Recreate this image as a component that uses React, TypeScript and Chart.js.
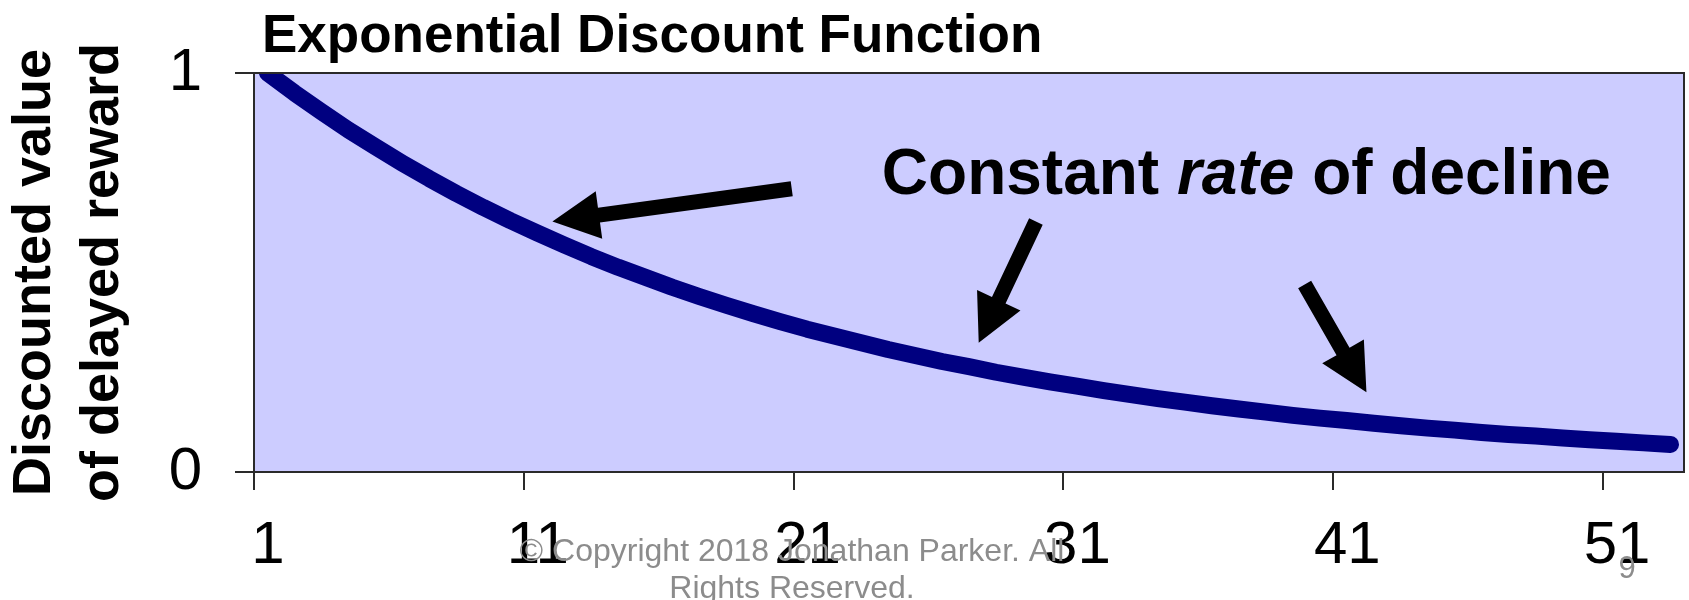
import React, { useEffect, useRef } from "react";
import { Chart, registerables } from "chart.js";

Chart.register(...registerables);

// ---------- data ----------
const chartTitle = "Exponential Discount Function";
const yAxisTitle = ["Discounted value", "of delayed reward"];

const periods = [
  1.5, 2.5, 3.5, 4.5, 5.5, 6.5, 7.5, 8.5, 9.5, 10.5,
  11.5, 12.5, 13.5, 14.5, 15.5, 16.5, 17.5, 18.5, 19.5, 20.5,
  21.5, 22.5, 23.5, 24.5, 25.5, 26.5, 27.5, 28.5, 29.5, 30.5,
  31.5, 32.5, 33.5, 34.5, 35.5, 36.5, 37.5, 38.5, 39.5, 40.5,
  41.5, 42.5, 43.5, 44.5, 45.5, 46.5, 47.5, 48.5, 49.5, 50.5,
  51.5, 52.5, 53.5,
];

const discountedValues = [
  1.0, 0.95, 0.903, 0.857, 0.815, 0.774, 0.735, 0.698, 0.663, 0.63,
  0.599, 0.569, 0.54, 0.513, 0.488, 0.463, 0.44, 0.418, 0.397, 0.377,
  0.358, 0.341, 0.324, 0.307, 0.292, 0.277, 0.264, 0.25, 0.238, 0.226,
  0.215, 0.204, 0.194, 0.184, 0.175, 0.166, 0.158, 0.15, 0.142, 0.135,
  0.129, 0.122, 0.116, 0.11, 0.105, 0.099, 0.094, 0.09, 0.085, 0.081,
  0.077, 0.073, 0.069,
];

const xTickValues = [1, 11, 21, 31, 41, 51];
const yTickValues = [0, 1];
const xRange = [1, 54];
const yRange = [0, 1];

const annotationParts = [
  { text: "Constant ", italic: false },
  { text: "rate", italic: true },
  { text: " of decline", italic: false },
];
const annotationAnchor = { x: 24.27, y: 0.696 };

const arrows = [
  { from: { x: 20.93, y: 0.71 }, to: { x: 12.06, y: 0.628 } },
  { from: { x: 29.98, y: 0.628 }, to: { x: 27.86, y: 0.324 } },
  { from: { x: 39.94, y: 0.47 }, to: { x: 42.23, y: 0.2 } },
];

const copyrightLines = ["© Copyright 2018 Jonathan Parker. All", "Rights Reserved."];
const slideNumber = "9";

// ---------- styles ----------
const FONT = '"Liberation Sans", Arial, Helvetica, sans-serif';
const PLOT_BG = "#CCCCFF";
const LINE_COLOR = "#000080";
const AXIS_COLOR = "#2a2a2a";
const GRAY_TEXT = "#8C8C8C";

function drawArrow(
  ctx: CanvasRenderingContext2D,
  x1: number, y1: number, x2: number, y2: number,
  shaft: number, headLen: number, headW: number
) {
  const dx = x2 - x1, dy = y2 - y1;
  const len = Math.hypot(dx, dy);
  const ux = dx / len, uy = dy / len;
  const px = -uy, py = ux;
  const bx = x2 - ux * headLen, by = y2 - uy * headLen;
  ctx.beginPath();
  ctx.moveTo(x1 + (px * shaft) / 2, y1 + (py * shaft) / 2);
  ctx.lineTo(bx + (px * shaft) / 2, by + (py * shaft) / 2);
  ctx.lineTo(bx + (px * headW) / 2, by + (py * headW) / 2);
  ctx.lineTo(x2, y2);
  ctx.lineTo(bx - (px * headW) / 2, by - (py * headW) / 2);
  ctx.lineTo(bx - (px * shaft) / 2, by - (py * shaft) / 2);
  ctx.lineTo(x1 - (px * shaft) / 2, y1 - (py * shaft) / 2);
  ctx.closePath();
  ctx.fill();
}

const decorPlugin = {
  id: "decor",
  beforeDraw(chart: any) {
    const { ctx, chartArea: a } = chart;
    ctx.save();
    ctx.fillStyle = PLOT_BG;
    ctx.fillRect(a.left, a.top, a.right - a.left, a.bottom - a.top);
    ctx.restore();
  },
  afterDatasetsDraw(chart: any) {
    const { ctx, chartArea: a, scales } = chart;
    const xs = scales.x, ys = scales.y;
    ctx.save();
    ctx.strokeStyle = AXIS_COLOR;
    ctx.lineWidth = 2;
    ctx.strokeRect(a.left, a.top, a.right - a.left, a.bottom - a.top);

    ctx.fillStyle = "#000";
    for (const ar of arrows) {
      drawArrow(
        ctx,
        xs.getPixelForValue(ar.from.x), ys.getPixelForValue(ar.from.y),
        xs.getPixelForValue(ar.to.x), ys.getPixelForValue(ar.to.y),
        15, 47, 48
      );
    }

    let tx = xs.getPixelForValue(annotationAnchor.x);
    const ty = ys.getPixelForValue(annotationAnchor.y);
    ctx.textBaseline = "alphabetic";
    ctx.textAlign = "left";
    for (const p of annotationParts) {
      ctx.font = `${p.italic ? "italic " : ""}bold 64px ${FONT}`;
      ctx.fillText(p.text, tx, ty);
      tx += ctx.measureText(p.text).width;
    }
    ctx.restore();
  },
  afterDraw(chart: any) {
    const { ctx } = chart;
    ctx.save();
    ctx.fillStyle = "#000";
    ctx.textBaseline = "alphabetic";
    ctx.textAlign = "left";
    ctx.font = `bold 53px ${FONT}`;
    ctx.fillText(chartTitle, 262, 52);

    ctx.fillStyle = GRAY_TEXT;
    ctx.font = `32px ${FONT}`;
    ctx.textAlign = "center";
    ctx.fillText(copyrightLines[0], 792, 561);
    ctx.fillText(copyrightLines[1], 792, 598);
    ctx.font = `31px ${FONT}`;
    ctx.fillText(slideNumber, 1627, 578);
    ctx.restore();
  },
};

export default function App() {
  const canvasRef = useRef<HTMLCanvasElement | null>(null);

  useEffect(() => {
    if (!canvasRef.current) return;
    const chart = new Chart(canvasRef.current, {
      type: "line",
      data: {
        datasets: [
          {
            data: periods.map((p, i) => ({ x: p, y: discountedValues[i] })),
            borderColor: LINE_COLOR,
            backgroundColor: LINE_COLOR,
            borderWidth: 17,
            borderCapStyle: "round",
            borderJoinStyle: "round",
            pointRadius: 0,
            tension: 0,
            fill: false,
            clip: 0,
          } as any,
        ],
      },
      options: {
        animation: false,
        responsive: true,
        maintainAspectRatio: false,
        layout: { padding: { top: 73, right: 5, bottom: 0, left: 0 } },
        plugins: {
          legend: { display: false },
          tooltip: { enabled: false },
          title: { display: false },
        },
        scales: {
          x: {
            type: "linear",
            min: xRange[0],
            max: xRange[1],
            afterBuildTicks: (scale: any) => {
              scale.ticks = xTickValues.map((v) => ({ value: v }));
            },
            afterFit: (scale: any) => {
              scale.height = 128;
            },
            ticks: {
              autoSkip: false,
              maxRotation: 0,
              padding: 20,
              labelOffset: 14,
              color: "#000",
              font: { family: FONT, size: 60 },
              callback: (v: any) => String(v),
            },
            grid: {
              drawOnChartArea: false,
              drawTicks: true,
              tickLength: 18,
              color: AXIS_COLOR,
              lineWidth: 2,
            },
            border: { display: true, color: AXIS_COLOR, width: 2 },
          },
          y: {
            type: "linear",
            min: yRange[0],
            max: yRange[1],
            afterBuildTicks: (scale: any) => {
              scale.ticks = yTickValues.map((v) => ({ value: v }));
            },
            afterFit: (scale: any) => {
              scale.width = 254;
            },
            ticks: {
              padding: 33,
              color: "#000",
              font: { family: FONT, size: 60 },
              callback: (v: any) => String(v),
            },
            grid: {
              drawOnChartArea: false,
              drawTicks: true,
              tickLength: 19,
              color: AXIS_COLOR,
              lineWidth: 2,
            },
            border: { display: true, color: AXIS_COLOR, width: 2 },
            title: {
              display: true,
              text: yAxisTitle,
              color: "#000",
              font: { family: FONT, size: 54, weight: "bold", lineHeight: 1.26 },
              padding: { top: 1, bottom: 0 },
            },
          },
        },
      },
      plugins: [decorPlugin],
    });
    return () => chart.destroy();
  }, []);

  return (
    <div style={{ position: "fixed", left: 0, top: 0, width: "1689px", height: "600px" }}>
      <canvas ref={canvasRef} />
    </div>
  );
}
